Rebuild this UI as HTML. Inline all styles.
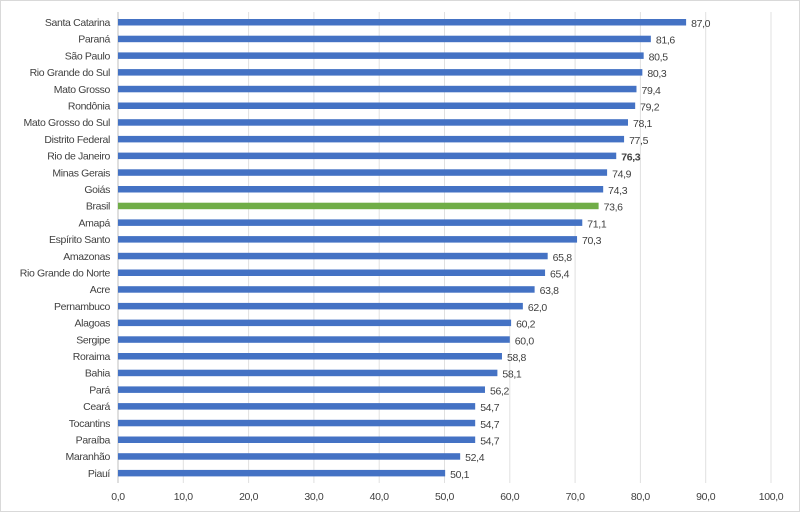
<!DOCTYPE html>
<html><head><meta charset="utf-8"><style>
html,body{margin:0;padding:0;background:#fff}
svg text{font-family:"Liberation Sans",sans-serif;font-size:10.5px;fill:#404040;letter-spacing:-0.35px}
</style></head><body>
<svg width="800" height="512">
<rect x="0.5" y="0.5" width="799" height="511" fill="#fff" stroke="#d9d9d9"/>
<g id="grid"></g><g id="bars"></g><g id="labels"></g><g id="ticks"></g>
</svg>
<script>
const categories=["Santa Catarina","Paraná","São Paulo","Rio Grande do Sul","Mato Grosso","Rondônia","Mato Grosso do Sul","Distrito Federal","Rio de Janeiro","Minas Gerais","Goiás","Brasil","Amapá","Espírito Santo","Amazonas","Rio Grande do Norte","Acre","Pernambuco","Alagoas","Sergipe","Roraima","Bahia","Pará","Ceará","Tocantins","Paraíba","Maranhão","Piauí"];
const values=[87.0,81.6,80.5,80.3,79.4,79.2,78.1,77.5,76.3,74.9,74.3,73.6,71.1,70.3,65.8,65.4,63.8,62.0,60.2,60.0,58.8,58.1,56.2,54.7,54.7,54.7,52.4,50.1];
const tickValues=[0,10,20,30,40,50,60,70,80,90,100];
const NS="http://www.w3.org/2000/svg";
const x=v=>118+v*6.53;
const y=i=>22+i*16.7;
function mk(t,a,p){const e=document.createElementNS(NS,t);for(const k in a)e.setAttribute(k,a[k]);document.getElementById(p).appendChild(e);return e;}
tickValues.forEach(t=>{
  const g=mk('line',{x1:x(t),x2:x(t),y1:12,y2:483,stroke:t===0?'#bfbfbf':'#e0e0e0','stroke-width':1},'grid');
  
  
  const l=mk('text',{x:x(t),y:500,'text-anchor':'middle'},'ticks');
  l.textContent=t.toFixed(1).replace('.',',');
  
  
});
categories.forEach((c,i)=>{
  const b=mk('rect',{x:x(0),y:y(i)-3,width:x(values[i])-x(0),height:6.5,fill:c==='Brasil'?'#70AD47':'#4472C4'},'bars');
  
  
  const cl=mk('text',{x:110,y:y(i)+4,'text-anchor':'end'},'labels');
  cl.textContent=c;
  
  
  const vl=mk('text',{x:x(values[i])+5,y:y(i)+5,'font-size':'11.5'},'labels');
  vl.textContent=values[i].toFixed(1).replace('.',',');
  if(c==='Rio de Janeiro'){vl.setAttribute('font-weight','bold');vl.setAttribute('font-size','12.5');vl.setAttribute('fill','#000');}
  
  
});
</script>
</body></html>
